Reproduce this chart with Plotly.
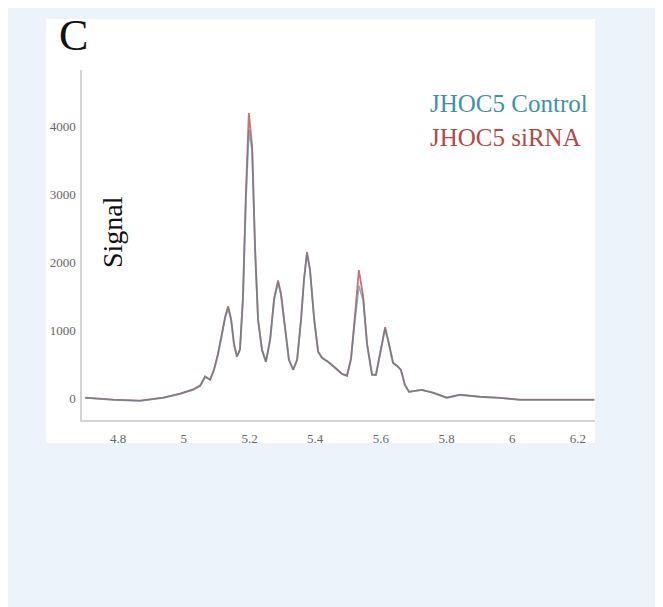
import plotly.graph_objects as go

# Retention / shift axis values (x) and signal for each series
x_vals = [4.700, 4.745, 4.785, 4.867, 4.937, 4.989, 5.028, 5.050, 5.065, 5.080,
          5.092, 5.104, 5.116, 5.126, 5.135, 5.144, 5.153, 5.162, 5.171, 5.180,
          5.189, 5.198, 5.208, 5.217, 5.226, 5.238, 5.250, 5.263, 5.275, 5.287,
          5.296, 5.308, 5.320, 5.333, 5.345, 5.357, 5.366, 5.375, 5.384, 5.397,
          5.409, 5.421, 5.440, 5.461, 5.482, 5.497, 5.509, 5.521, 5.533, 5.546,
          5.558, 5.573, 5.585, 5.597, 5.613, 5.625, 5.637, 5.649, 5.661, 5.673,
          5.686, 5.704, 5.725, 5.759, 5.801, 5.841, 5.902, 5.963, 6.023, 6.099,
          6.176, 6.250]

control = [0, -15, -29, -44, 0, 59, 118, 176, 309, 265,
           412, 632, 926, 1176, 1320, 1147, 779, 603, 706, 1441,
           2912, 3940, 3647, 2176, 1147, 706, 529, 853, 1441, 1700,
           1515, 1000, 559, 412, 559, 1147, 1735, 2120, 1882, 1147,
           676, 588, 529, 441, 353, 324, 559, 1147, 1650, 1441,
           779, 338, 338, 632, 1020, 779, 515, 471, 412, 191,
           88, 103, 118, 74, 0, 44, 15, 0, -29, -29,
           -29, -29]

sirna = [5, -10, -25, -40, 5, 65, 125, 185, 320, 270,
         420, 650, 950, 1200, 1350, 1160, 790, 610, 720, 1480,
         3000, 4190, 3700, 2200, 1160, 710, 535, 870, 1470, 1730,
         1530, 1010, 565, 415, 565, 1160, 1750, 2150, 1900, 1160,
         680, 590, 530, 445, 355, 330, 580, 1200, 1880, 1500,
         800, 345, 340, 640, 1040, 790, 520, 475, 415, 195,
         90, 105, 120, 78, 5, 48, 18, 2, -25, -25,
         -25, -25]

series_names = ["JHOC5 Control", "JHOC5 siRNA"]
series_colors = ["#3f93a3", "#b34848"]

y_ticks = [0, 1000, 2000, 3000, 4000]
x_ticks = [4.8, 5.0, 5.2, 5.4, 5.6, 5.8, 6.0, 6.2]
x_tick_text = ["4.8", "5", "5.2", "5.4", "5.6", "5.8", "6", "6.2"]

W, H = 663, 607
OFF = 8  # page body margin offset
ml, mr, mt, mb = 82 - OFF, 663 - (595 - OFF), 70 - OFF, 607 - (420 - OFF)

fig = go.Figure()
fig.add_trace(go.Scatter(x=x_vals, y=sirna, mode="lines", name=series_names[1],
                         line=dict(color="rgba(190,80,80,0.8)", width=1.8),
                         showlegend=False))
fig.add_trace(go.Scatter(x=x_vals, y=control, mode="lines", name=series_names[0],
                         line=dict(color="rgba(70,130,150,0.6)", width=1.8),
                         showlegend=False))

pw = W - ml - mr
ph = H - mt - mb


def px2paper_x(px):
    return (px - OFF - ml) / pw


def px2paper_y(py):
    return (H - mb - (py - OFF)) / ph


# white panel
fig.add_shape(type="rect", xref="paper", yref="paper",
              x0=px2paper_x(46), x1=px2paper_x(595),
              y0=px2paper_y(443), y1=px2paper_y(19),
              fillcolor="white", line=dict(width=0), layer="below")

serif = "Liberation Serif, Times New Roman, serif"

fig.add_annotation(text="C", xref="paper", yref="paper",
                   x=px2paper_x(73), y=px2paper_y(36),
                   xanchor="center", yanchor="middle", showarrow=False,
                   font=dict(family=serif, size=44, color="#111"))
fig.add_annotation(text="Signal", xref="paper", yref="paper",
                   x=px2paper_x(112), y=px2paper_y(232), textangle=-90,
                   xanchor="center", yanchor="middle", showarrow=False,
                   font=dict(family=serif, size=28, color="#111"))
fig.add_annotation(text=series_names[0], xref="paper", yref="paper",
                   x=px2paper_x(428), y=px2paper_y(103),
                   xanchor="left", yanchor="middle", showarrow=False,
                   font=dict(family=serif, size=25, color=series_colors[0]))
fig.add_annotation(text=series_names[1], xref="paper", yref="paper",
                   x=px2paper_x(428), y=px2paper_y(137),
                   xanchor="left", yanchor="middle", showarrow=False,
                   font=dict(family=serif, size=25, color=series_colors[1]))

fig.update_layout(
    width=W, height=H,
    margin=dict(l=ml, r=mr, t=mt, b=mb, pad=0),
    paper_bgcolor="#edf3fb",
    plot_bgcolor="rgba(0,0,0,0)",
    xaxis=dict(range=[4.69, 6.252], tickvals=x_ticks, ticktext=x_tick_text,
               showgrid=False, zeroline=False, showline=True,
               linecolor="#d4d4d4", linewidth=1.5,
               ticks="outside", ticklen=6, tickcolor="rgba(0,0,0,0)",
               tickfont=dict(family=serif, size=13, color="#666")),
    yaxis=dict(range=[-324, 4824], tickvals=y_ticks,
               showgrid=False, zeroline=False, showline=True,
               linecolor="#d4d4d4", linewidth=1.5,
               ticks="outside", ticklen=2, tickcolor="rgba(0,0,0,0)",
               tickfont=dict(family=serif, size=13, color="#666")),
)

fig.write_html("out.html")
